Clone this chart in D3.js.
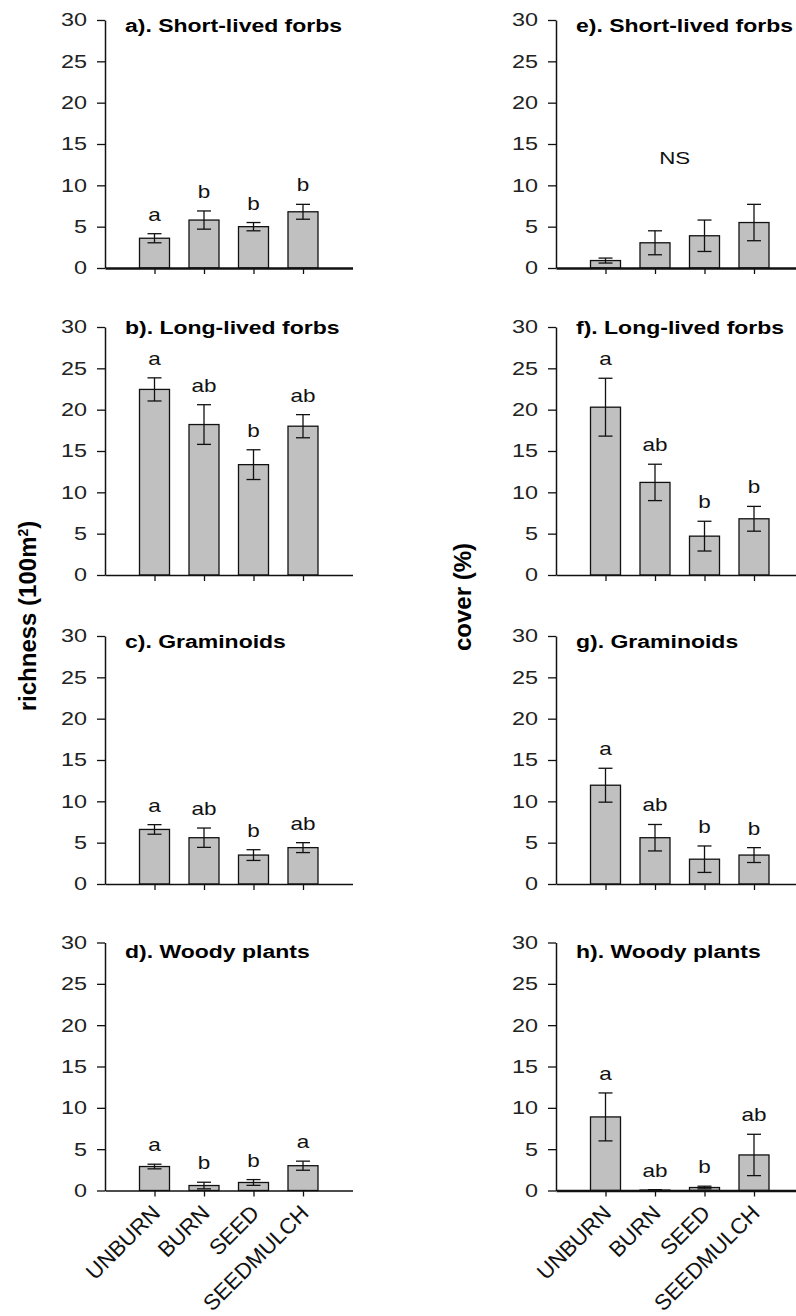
<!DOCTYPE html>
<html>
<head>
<meta charset="utf-8">
<script src="https://cdn.jsdelivr.net/npm/d3@7"></script>
<style>
  body { margin: 0; background: #fff; }
  svg { display: block; }
  text { font-family: "Liberation Sans", Arial, Helvetica, sans-serif; }
</style>
</head>
<body>
<svg id="chart" width="796" height="1316"></svg>
<script>
// ---- data ----------------------------------------------------------------
const categories = ["UNBURN", "BURN", "SEED", "SEEDMULCH"];
const yTicks = [0, 5, 10, 15, 20, 25, 30];

// species richness (per 100 m2): means, standard errors, Tukey groups
const richShortMean = [3.6, 5.8, 5.0, 6.8];
const richShortSE = [0.55, 1.1, 0.5, 0.9];
const richShortLetters = ["a", "b", "b", "b"];

const richLongMean = [22.45, 18.2, 13.35, 18.0];
const richLongSE = [1.4, 2.4, 1.8, 1.4];
const richLongLetters = ["a", "ab", "b", "ab"];

const richGramMean = [6.6, 5.6, 3.5, 4.4];
const richGramSE = [0.58, 1.17, 0.65, 0.6];
const richGramLetters = ["a", "ab", "b", "ab"];

const richWoodyMean = [2.9, 0.6, 0.97, 3.0];
const richWoodySE = [0.28, 0.4, 0.35, 0.55];
const richWoodyLetters = ["a", "b", "b", "a"];

// cover (%): means, standard errors, Tukey groups
const coverShortMean = [0.9, 3.05, 3.9, 5.5];
const coverShortSE = [0.3, 1.45, 1.9, 2.2];
const coverShortLetters = ["", "", "", ""];

const coverLongMean = [20.3, 11.2, 4.7, 6.8];
const coverLongSE = [3.5, 2.2, 1.8, 1.5];
const coverLongLetters = ["a", "ab", "b", "b"];

const coverGramMean = [11.95, 5.6, 3.0, 3.5];
const coverGramSE = [2.05, 1.6, 1.6, 0.9];
const coverGramLetters = ["a", "ab", "b", "b"];

const coverWoodyMean = [8.9, 0.05, 0.36, 4.3];
const coverWoodySE = [2.9, 0.05, 0.16, 2.5];
const coverWoodyLetters = ["a", "ab", "b", "ab"];

const panelTitles = [
  "a). Short-lived forbs", "b). Long-lived forbs", "c). Graminoids", "d). Woody plants",
  "e). Short-lived forbs", "f). Long-lived forbs", "g). Graminoids", "h). Woody plants"
];
const nsLabel = "NS";

const panels = [
  { mean: richShortMean, se: richShortSE, letters: richShortLetters },
  { mean: richLongMean, se: richLongSE, letters: richLongLetters },
  { mean: richGramMean, se: richGramSE, letters: richGramLetters },
  { mean: richWoodyMean, se: richWoodySE, letters: richWoodyLetters },
  { mean: coverShortMean, se: coverShortSE, letters: coverShortLetters, ns: true },
  { mean: coverLongMean, se: coverLongSE, letters: coverLongLetters },
  { mean: coverGramMean, se: coverGramSE, letters: coverGramLetters },
  { mean: coverWoodyMean, se: coverWoodySE, letters: coverWoodyLetters }
].map((p, i) => ({ ...p, title: panelTitles[i], col: Math.floor(i / 4), row: i % 4 }));

// ---- layout --------------------------------------------------------------
const colAxisX = [105, 556];
const rowTop = [20, 327, 636, 942.5];
const plotH = 248;
const axisLen = 247.5;
const barW = 30;
const capHalf = 7;
const titleDy = [12.3, 6.8, 12, 15];
const squash = 0.78;          // horizontal text is drawn vertically condensed
const baseWidth = [2.6, 1.5, 1.5, 1.5, 2.6, 1.5, 1.5, 2.6];

const svg = d3.select("#chart");
svg.append("rect").attr("width", 796).attr("height", 1316).attr("fill", "#fff");

// padding slots left and right of the four treatments
const x = d3.scalePoint()
  .domain(["__left", ...categories, "__right"])
  .range([0, axisLen]);

const y = d3.scaleLinear().domain([0, 30]).range([plotH, 0]);

function condensedText(g, px, py, str) {
  return g.append("g")
    .attr("transform", `translate(${px},${py}) scale(1,${squash})`)
    .append("text")
    .text(str);
}

panels.forEach((p, i) => {
  const g = svg.append("g")
    .attr("transform", `translate(${colAxisX[p.col]},${rowTop[p.row]})`);

  const rows = categories.map((c, k) => ({ cat: c, m: p.mean[k], se: p.se[k], letter: p.letters[k] }));

  // bars
  g.selectAll("rect.bar").data(rows).join("rect")
    .attr("class", "bar")
    .attr("x", d => x(d.cat) - barW / 2)
    .attr("y", d => y(d.m))
    .attr("width", barW)
    .attr("height", d => y(0) - y(d.m))
    .attr("fill", "#c0c0c0")
    .attr("stroke", "#111")
    .attr("stroke-width", 1.3);

  // error bars
  const eb = g.selectAll("g.err").data(rows).join("g").attr("class", "err")
    .attr("stroke", "#111").attr("stroke-width", 1.3);
  eb.append("line")
    .attr("x1", d => x(d.cat)).attr("x2", d => x(d.cat))
    .attr("y1", d => y(Math.max(0, d.m - d.se))).attr("y2", d => y(d.m + d.se));
  eb.append("line")
    .attr("x1", d => x(d.cat) - capHalf).attr("x2", d => x(d.cat) + capHalf)
    .attr("y1", d => y(d.m + d.se)).attr("y2", d => y(d.m + d.se));
  eb.append("line")
    .attr("x1", d => x(d.cat) - capHalf).attr("x2", d => x(d.cat) + capHalf)
    .attr("y1", d => y(Math.max(0, d.m - d.se))).attr("y2", d => y(Math.max(0, d.m - d.se)));

  // significance letters
  rows.filter(d => d.letter).forEach(d => {
    condensedText(g, x(d.cat), y(d.m + d.se) - 13, d.letter)
      .attr("text-anchor", "middle")
      .attr("font-size", 22.5)
      .attr("fill", "#111");
  });

  if (p.ns) {
    condensedText(g, (x("BURN") + x("SEED")) / 2 - 5, y(12.55), nsLabel)
      .attr("text-anchor", "middle")
      .attr("font-size", 22.3)
      .attr("fill", "#111");
  }

  // y axis
  const ya = g.append("g")
    .call(d3.axisLeft(y).tickValues(yTicks).tickSize(8).tickPadding(10).tickSizeOuter(0));
  ya.select(".domain").attr("stroke", "#111").attr("stroke-width", 1.5);
  ya.selectAll(".tick line").attr("stroke", "#111").attr("stroke-width", 1.3);
  ya.selectAll(".tick text")
    .attr("font-size", 23.4)
    .attr("font-family", "'Liberation Sans', Arial, sans-serif")
    .attr("fill", "#222")
    .attr("transform", `scale(1,${squash})`);

  // x axis
  const xa = g.append("g")
    .attr("transform", `translate(0,${plotH})`)
    .call(d3.axisBottom(x).tickValues(categories).tickSize(6).tickSizeOuter(0).tickFormat(""));
  xa.select(".domain").attr("stroke", "#111").attr("stroke-width", baseWidth[i]);
  xa.selectAll(".tick line").attr("stroke", "#111").attr("stroke-width", 1.3);

  // treatment labels under the bottom row
  if (p.row === 3) {
    categories.forEach(c => {
      g.append("text")
        .attr("transform", `translate(${x(c) + 7},${plotH + 24}) rotate(-45)`)
        .attr("text-anchor", "end")
        .attr("font-size", 22)
        .attr("fill", "#111")
        .text(c);
    });
  }

  // panel title
  condensedText(g, 20, titleDy[p.row], p.title)
    .attr("font-size", 23)
    .attr("font-weight", "bold")
    .attr("fill", "#000");
});

// axis titles
const richTitle = svg.append("text")
  .attr("transform", "translate(36,616) rotate(-90)")
  .attr("text-anchor", "middle")
  .attr("font-size", 24)
  .attr("font-weight", "bold")
  .attr("fill", "#000");
richTitle.append("tspan").text("richness (100m");
richTitle.append("tspan").attr("baseline-shift", "super").attr("font-size", 14).text("2");
richTitle.append("tspan").text(")");

svg.append("text")
  .attr("transform", "translate(471,597) rotate(-90)")
  .attr("text-anchor", "middle")
  .attr("font-size", 24)
  .attr("font-weight", "bold")
  .attr("fill", "#000")
  .text("cover (%)");
</script>
</body>
</html>
